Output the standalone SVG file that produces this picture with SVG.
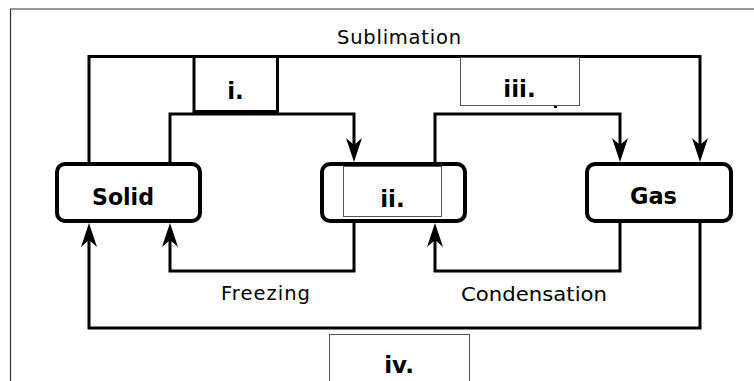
<svg xmlns="http://www.w3.org/2000/svg" width="754" height="381" viewBox="0 0 754 381">
<defs>
<style>
.frame{fill:none;stroke:#333;stroke-width:1.2}
.node{fill:#fff;stroke:#000;stroke-width:4}
.conn{fill:none;stroke:#000;stroke-width:3}
.blank{fill:#fff;stroke:#555;stroke-width:1}
.lbl{font-family:"DejaVu Sans",sans-serif;font-size:19.5px;fill:#000;text-anchor:middle}
.big{font-family:"DejaVu Sans",sans-serif;font-size:23px;font-weight:bold;fill:#000;text-anchor:middle}
</style>
<marker id="arr" viewBox="-12 -10 26 20" markerWidth="26" markerHeight="20" refX="0" refY="0" markerUnits="userSpaceOnUse" orient="auto" overflow="visible">
<path d="M12,0 L-12,-8 L-5,0 L-12,8 Z" fill="#000"/>
</marker>
</defs>
<rect width="754" height="381" fill="#fff"/>
<path class="frame" d="M760,9 H10.5 V390"/>
<g id="connectors">
<path id="sublimation" class="conn" d="M89,162 V56.5 H700 V150" marker-end="url(#arr)"/>
<path id="conn-i" class="conn" d="M170,162 V114 H354 V150" marker-end="url(#arr)"/>
<path id="conn-iii" class="conn" d="M435,162 V114 H620 V150" marker-end="url(#arr)"/>
<path id="freezing" class="conn" d="M354,223 V271 H170 V235" marker-end="url(#arr)"/>
<path id="condensation" class="conn" d="M620,223 V271 H435 V235" marker-end="url(#arr)"/>
<path id="deposition" class="conn" d="M700,223 V328 H89 V235" marker-end="url(#arr)"/>
<text class="lbl" x="399" y="44" textLength="124" lengthAdjust="spacing">Sublimation</text>
<text class="lbl" x="265.5" y="300" textLength="89" lengthAdjust="spacing">Freezing</text>
<text class="lbl" x="534" y="301" textLength="146" lengthAdjust="spacingAndGlyphs">Condensation</text>
</g>
<g id="solid">
<rect class="node" x="57" y="164" width="143" height="57" rx="8"/>
<text class="big" x="123" y="205" textLength="62" lengthAdjust="spacingAndGlyphs">Solid</text>
</g>
<g id="liquid">
<rect class="node" x="322" y="164" width="143" height="57" rx="8"/>
<rect class="blank" x="343.5" y="166.5" width="98" height="50"/>
<text class="big" x="392.5" y="207">ii.</text>
</g>
<g id="gas">
<rect class="node" x="587" y="164" width="144" height="57" rx="8"/>
<text class="big" x="653.5" y="204" textLength="47" lengthAdjust="spacingAndGlyphs">Gas</text>
</g>
<g id="box-i">
<rect x="194" y="56.5" width="83.5" height="55" fill="#fff" stroke="#000" stroke-width="3"/>
<text class="big" x="235.5" y="99">i.</text>
</g>
<g id="box-iii">
<rect class="blank" x="460.5" y="57.5" width="119" height="48"/>
<rect x="554" y="106" width="3" height="2" fill="#000"/>
<text class="big" x="519.5" y="97">iii.</text>
</g>
<g id="box-iv">
<rect class="blank" x="329.5" y="334.5" width="140" height="60"/>
<text class="big" x="399" y="373">iv.</text>
</g>
</svg>
